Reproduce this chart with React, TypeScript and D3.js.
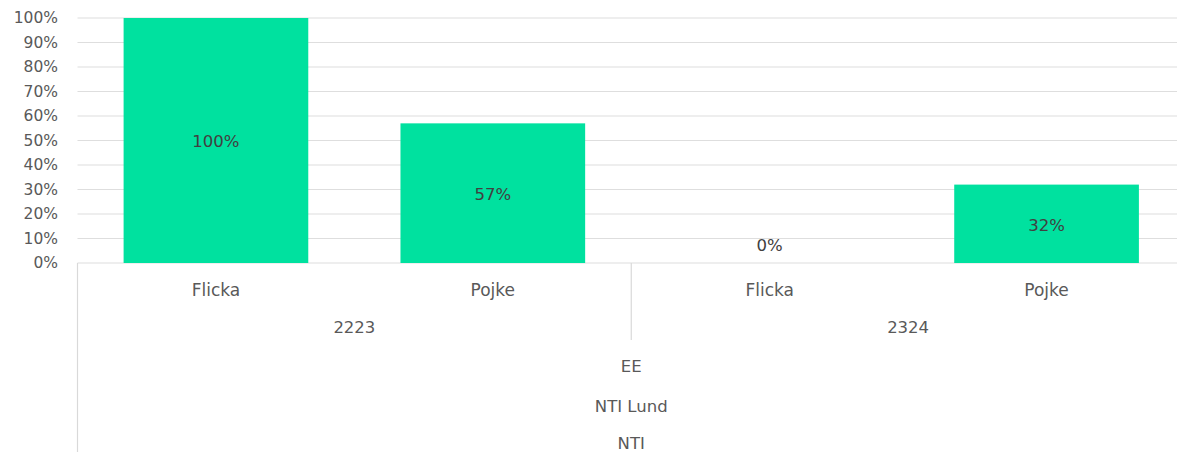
import React from "react";
import * as d3 from "d3";

const genders = ["Flicka", "Pojke", "Flicka", "Pojke"];
const years = ["2223", "2324"];
const values = [1.0, 0.57, 0.0, 0.32];
const program = "EE";
const school = "NTI Lund";
const org = "NTI";
const yTicks = [0, 0.1, 0.2, 0.3, 0.4, 0.5, 0.6, 0.7, 0.8, 0.9, 1.0];

const W = 1177;
const H = 452;
const left = 77.5;
const right = 1185;
const top = 18;
const bottom = 263;
const font = "'DejaVu Sans', sans-serif";
const textColor = "#595959";

export default function App() {
  const x = d3.scaleBand<number>().domain(d3.range(genders.length)).range([left, right]).paddingInner(0.333).paddingOuter(0.1665);
  const y = d3.scaleLinear().domain([0, 1]).range([bottom, top]);
  const step = x.step();
  const fmt = d3.format(".0%");
  const groupX = (g: number) => left + step * 2 * g + step;

  return (
    <svg width={W} height={H} style={{ position: "absolute", left: 0, top: 0, background: "#fff" }} fontFamily={font}>
      {yTicks.map((t) => (
        <g key={t}>
          <line x1={left} x2={right} y1={y(t)} y2={y(t)} stroke="#dedede" strokeWidth={1.2} />
          <text x={58} y={y(t)} dy="0.35em" textAnchor="end" fontSize={15.5} fill={textColor}>
            {fmt(t)}
          </text>
        </g>
      ))}
      {values.map((v, i) => (
        <rect key={i} x={x(i)} y={y(v)} width={x.bandwidth()} height={bottom - y(v)} fill="#00E19F" />
      ))}
      {values.map((v, i) => (
        <text
          key={"l" + i}
          x={(x(i) as number) + x.bandwidth() / 2}
          y={v > 0 ? (y(v) + bottom) / 2 + 1 : bottom - 18}
          dy="0.35em"
          textAnchor="middle"
          fontSize={16.5}
          fill="#404040"
        >
          {fmt(v)}
        </text>
      ))}
      <line x1={left} x2={left} y1={bottom} y2={H} stroke="#d9d9d9" strokeWidth={1.2} />
      <line x1={left + step * 2} x2={left + step * 2} y1={bottom} y2={340} stroke="#d9d9d9" strokeWidth={1.2} />
      {genders.map((g, i) => (
        <text key={"g" + i} x={(x(i) as number) + x.bandwidth() / 2} y={290} dy="0.35em" textAnchor="middle" fontSize={17} fill={textColor}>
          {g}
        </text>
      ))}
      {years.map((yr, i) => (
        <text key={"y" + i} x={groupX(i)} y={327} dy="0.35em" textAnchor="middle" fontSize={16.5} fill={textColor}>
          {yr}
        </text>
      ))}
      <text x={(left + right) / 2} y={366} dy="0.35em" textAnchor="middle" fontSize={16.5} fill={textColor}>{program}</text>
      <text x={(left + right) / 2} y={406} dy="0.35em" textAnchor="middle" fontSize={16.5} fill={textColor}>{school}</text>
      <text x={(left + right) / 2} y={443} dy="0.35em" textAnchor="middle" fontSize={16.5} fill={textColor}>{org}</text>
    </svg>
  );
}
